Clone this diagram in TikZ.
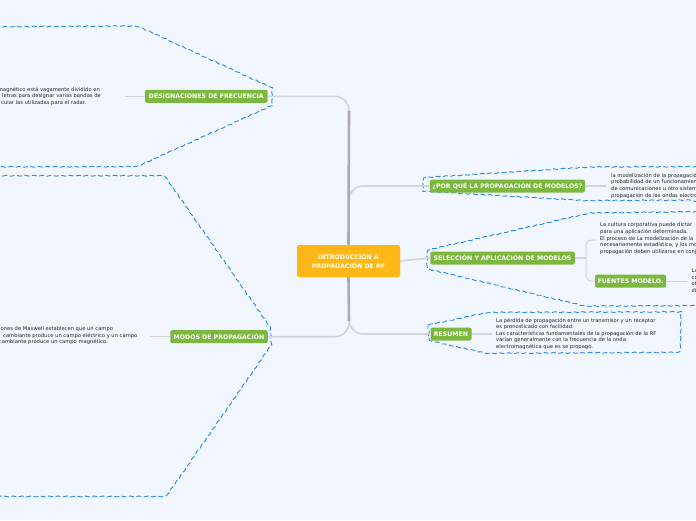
\documentclass[tikz,border=0pt]{standalone}
\usepackage{fontspec}
\setmainfont{DejaVu Sans}
\usetikzlibrary{decorations.pathmorphing}
\definecolor{bg}{RGB}{242,246,254}
\definecolor{grn}{RGB}{124,183,62}
\definecolor{org}{RGB}{253,183,22}
\definecolor{bnd}{RGB}{40,135,235}
\definecolor{trunkc}{RGB}{172,172,172}
\definecolor{lnk}{RGB}{208,212,220}
\definecolor{txt}{RGB}{35,35,35}
\begin{document}
\begin{tikzpicture}[x=1pt,y=-1pt,
  topic/.style={fill=grn, rounded corners=2pt, text=white, font=\fontsize{6.2}{7}\selectfont\bfseries, inner sep=0pt, minimum height=13pt},
  central/.style={fill=org, rounded corners=2.5pt, text=white, font=\fontsize{6.2}{8.6}\selectfont\bfseries, align=center, inner sep=0pt, minimum width=103pt, minimum height=32pt},
  note/.style={text=txt, font=\fontsize{5.2}{6.6}\selectfont, align=left, inner sep=0pt, anchor=north west},
  link/.style={draw=lnk, line width=1.6pt},
  thinlink/.style={draw=lnk, line width=1pt},
  trunkline/.style={draw=trunkc, line width=2.6pt},
  boundary/.style={draw=bnd, line width=0.9pt, dash pattern=on 5pt off 2.5pt, line join=round,
    decorate, decoration={snake, amplitude=0.45pt, segment length=9pt}}]
\fill[bg] (0,0) rectangle (696,520);
\useasboundingbox (0,0) rectangle (696,520);
\clip (0,0) rectangle (696,520);

% boundaries
\draw[boundary] (-5,26.7) -- (135,26) -- (270.5,88.3) -- (270.5,105) -- (136.5,165.7) -- (-5,166);
\draw[boundary] (-5,175.7) -- (161,175.7) -- (268,329) -- (269,344) -- (163.3,496.5) -- (-5,496.5);
\draw[boundary] (705,166.5) -- (593,167) -- (428,177.5) -- (428,193.5) -- (590,203) -- (705,202.5);
\draw[boundary] (705,211.5) -- (590,213) -- (428,250) -- (428,265.5) -- (585,302.5) -- (705,302);
\draw[boundary] (428,325) -- (485,313) -- (679,312.5) -- (678,354) -- (484,355) -- (428,342.5) -- cycle;

% nodes
\node[central] (cen) at (348.5,261) {INTRODUCCIÓN A\\PROPAGACIÓN DE RF};
\node[topic, minimum width=122.5pt] (dsg) at (206.3,96.3) {DESIGNACIONES DE FRECUENCIA};
\node[topic, minimum width=97.5pt] (mod) at (219,336.7) {MODOS DE PROPAGACIÓN};
\node[topic, minimum width=155pt] (pq) at (507.5,186) {¿POR QUÉ LA PROPAGACIÓN DE MODELOS?};
\node[topic, minimum width=144.5pt] (sel) at (502.5,258) {SELECCIÓN Y APLICACIÓN DE MODELOS};
\node[topic, minimum width=71pt] (fue) at (630.5,281.2) {FUENTES MODELO.};
\node[topic, minimum width=41pt] (res) at (451,334) {RESUMEN};

% trunk and branches
\draw[link, rounded corners=14pt] (349,160) |- (dsg.east);
\draw[link, rounded corners=14pt] (349,300) |- (mod.east);
\draw[link, rounded corners=14pt] (349,230) |- (pq.west);
\draw[link, rounded corners=14pt] (349,300) |- (res.west);
\draw[link] (cen.east) -- (sel.west);
\draw[trunkline] (349,111) -- (cen.north);
\draw[trunkline] (cen.south) -- (349,321);
\node[central] at (cen.center) {INTRODUCCIÓN A\\PROPAGACIÓN DE RF};

% notes
\node[note] (dsgT) at (0,87) {\hspace*{-2.2pt}magnético está vagamente dividido en\\
\hspace*{2pt}letras para designar varias bandas de\\
\hspace*{1pt}cular las utilizadas para el radar.};
\node[note] (modT) at (0,326.4) {\hspace*{0.5pt}ones de Maxwell establecen que un campo\\
\hspace*{3pt}cambiante produce un campo eléctrico y un campo\\
\hspace*{-1.2pt}cambiante produce un campo magnético.};
\node[note] (pqT) at (611,173) {la modelización de la propagación\\probabilidad de un funcionamiento\\de comunicaciones u otro sistema\\propagación de las ondas electromagnéticas};
\node[note] (selT) at (600,222.7) {La cultura corporativa puede dictar\\para una aplicación determinada.\\El proceso de La modelización de la\\necesariamente estadística, y los modelos\\propagación deben utilizarse en conjunto};
\node[note] (fueT) at (691.5,268.5) {Las\\con\\otr\\dis};
\node[note] (resT) at (496,317.7) {La pérdida de propagación entre un transmisor y un receptor\\es pronosticado con facilidad.\\Las características fundamentales de la propagación de la RF\\varían generalmente con la frecuencia de la onda\\electromagnética que es se propagó.};

% connectors topic -> note
\coordinate (dsgIn) at (125,96.3);
\coordinate (modIn) at (150,336.7);
\coordinate (pqIn) at (606,186);
\coordinate (resIn) at (491.5,334);
\coordinate (fueIn) at (686.5,281.2);
\coordinate (selIn) at (596,240);
\coordinate (brk) at (586,258);
\draw[thinlink] (dsg.west) -- (dsgIn);
\draw[thinlink] (mod.west) -- (modIn);
\draw[link] (pq.east) -- (pqIn);
\draw[link] (res.east) -- (resIn);
\draw[thinlink] (fue.east) -- (fueIn);
\draw[link] (sel.east) -- (brk);
\draw[thinlink, rounded corners=5pt] (selIn) -| (brk) |- (fue.west);
\end{tikzpicture}
\end{document}
